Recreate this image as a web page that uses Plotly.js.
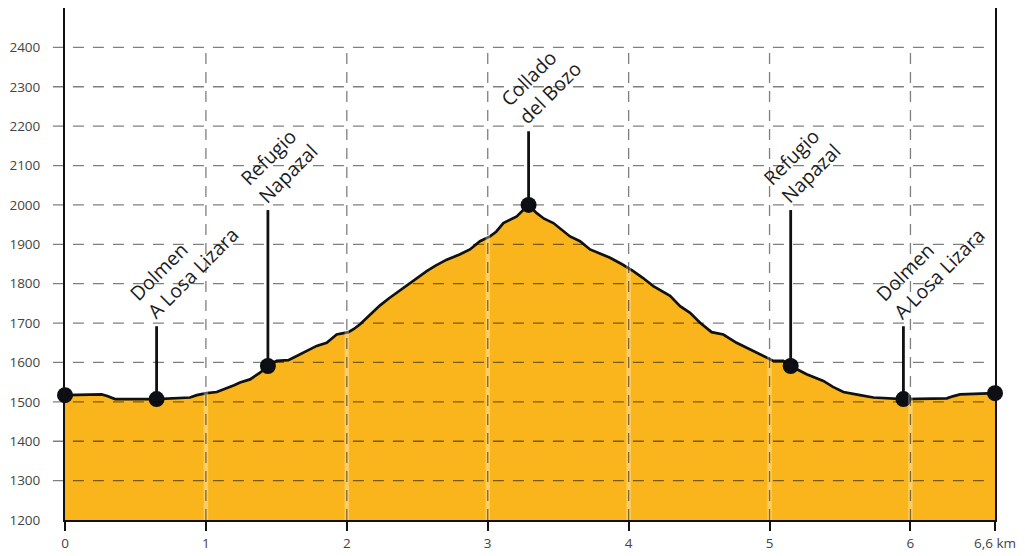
<!DOCTYPE html>
<html>
<head>
<meta charset="utf-8">
<script src="https://cdn.plot.ly/plotly-3.0.1.min.js"></script>
<style>
  html, body { margin: 0; padding: 0; background: #ffffff; }
  #chart { width: 1025px; height: 556px; }
</style>
</head>
<body>
<div id="chart"></div>
<script>
// ---- Data ----
const profileKm = [0, 0.26, 0.30, 0.355, 0.65, 0.887, 0.935, 1.005, 1.077, 1.10, 1.148, 1.20, 1.242, 1.313, 1.384, 1.439,
  1.502, 1.585, 1.62, 1.668, 1.72, 1.786, 1.857, 1.928, 2.011, 2.05, 2.094, 2.165, 2.236, 2.30, 2.401, 2.48, 2.567,
  2.63, 2.709, 2.80, 2.874, 2.945, 3.016, 3.06, 3.111, 3.206, 3.288, 3.348, 3.40, 3.466, 3.53, 3.584, 3.655, 3.726,
  3.80, 3.868, 3.95, 4.033, 4.10, 4.175, 4.294, 4.365, 4.436, 4.507, 4.589, 4.672, 4.766, 4.908, 5.027, 5.098, 5.15,
  5.263, 5.382, 5.45, 5.524, 5.642, 5.737, 5.95, 6.258, 6.30, 6.352, 6.6];
const profileElev = [1517, 1519, 1515, 1507, 1507, 1511, 1517, 1522, 1525, 1528, 1536, 1542, 1549, 1557, 1574, 1591,
  1604, 1606, 1612, 1621, 1631, 1642, 1650, 1671, 1677, 1685, 1697, 1722, 1745, 1763, 1790, 1810, 1832,
  1846, 1861, 1874, 1887, 1908, 1920, 1932, 1954, 1971, 2000, 1979, 1965, 1954, 1935, 1920, 1908, 1887,
  1876, 1866, 1850, 1832, 1815, 1794, 1769, 1743, 1726, 1701, 1677, 1671, 1650, 1625, 1604, 1604, 1591,
  1570, 1553, 1538, 1525, 1517, 1511, 1507, 1509, 1514, 1519, 1522];

const wpKm   = [0, 0.65, 1.44, 3.29, 5.15, 5.95, 6.6];
const wpElev = [1517, 1507, 1591, 2000, 1591, 1507, 1522];

const labelKm       = [0.65, 1.44, 3.29, 5.15, 5.95];
const labelBaseElev = [1507, 1591, 2000, 1591, 1507];
const labelTopElev  = [1692, 1987, 2187, 1987, 1692];
const labelText     = ["Dolmen<br>A Losa Lizara", "Refugio<br>Napazal", "Collado<br>del Bozo",
                       "Refugio<br>Napazal", "Dolmen<br>A Losa Lizara"];

const xTickVals = [0, 1, 2, 3, 4, 5, 6, 6.6];
const xTickText = ["0", "1", "2", "3", "4", "5", "6", "6,6 km"];
const yTickVals = [1200, 1300, 1400, 1500, 1600, 1700, 1800, 1900, 2000, 2100, 2200, 2300, 2400];
const xGridVals = [1, 2, 3, 4, 5, 6];
const yGridVals = [1300, 1400, 1500, 1600, 1700, 1800, 1900, 2000, 2100, 2200, 2300, 2400];

// ---- Traces ----
const leaderX = [], leaderY = [];
labelKm.forEach((k, i) => {
  leaderX.push(k, k, null);
  leaderY.push(labelBaseElev[i], labelTopElev[i], null);
});

const traces = [
  {
    x: profileKm, y: profileElev, type: 'scatter', mode: 'lines',
    fill: 'tozeroy', fillcolor: '#F9B51B',
    line: { color: '#111111', width: 2.7 },
    hoverinfo: 'skip', showlegend: false
  },
  {
    x: leaderX, y: leaderY, type: 'scatter', mode: 'lines',
    line: { color: '#111111', width: 2.8 },
    hoverinfo: 'skip', showlegend: false
  },
  {
    x: wpKm, y: wpElev, type: 'scatter', mode: 'markers',
    marker: { color: '#0d0f14', size: 16, line: { width: 0 } },
    cliponaxis: false,
    hoverinfo: 'skip', showlegend: false
  }
];

// ---- Grid shapes (drawn above the fill, as in the reference) ----
const shapes = [];
xGridVals.forEach(v => {
  shapes.push({
    type: 'line', layer: 'above', xref: 'x', yref: 'y',
    x0: v, x1: v, y0: 1200, y1: 2500,
    line: { color: 'rgba(255,255,255,0.32)', width: 4.5 }
  });
});
xGridVals.forEach(v => {
  shapes.push({
    type: 'line', layer: 'above', xref: 'x', yref: 'y',
    x0: v, x1: v, y0: 1200, y1: yGridVals[yGridVals.length - 1],
    line: { color: 'rgba(0,0,0,0.5)', width: 1.3, dash: '11px,8px' }
  });
});
yGridVals.forEach(v => {
  shapes.push({
    type: 'line', layer: 'above', xref: 'paper', yref: 'y',
    x0: -0.013, x1: 0.991, y0: v, y1: v,
    line: { color: 'rgba(0,0,0,0.5)', width: 1.3, dash: '11px,9px' }
  });
});

// ---- Labels ----
const annotations = labelKm.map((k, i) => ({
  x: k, y: labelTopElev[i], xref: 'x', yref: 'y',
  text: labelText[i], showarrow: false,
  textangle: -45, align: 'left',
  xanchor: 'left', yanchor: 'bottom',
  xshift: -36, yshift: -1,
  font: { family: 'Open Sans, sans-serif', size: 19.5, color: '#1c1c1c' }
}));

const layout = {
  width: 1025, height: 556,
  margin: { l: 65, r: 30, t: 8, b: 36, pad: 0 },
  paper_bgcolor: '#ffffff', plot_bgcolor: '#ffffff',
  showlegend: false,
  xaxis: {
    range: [0, 6.6], fixedrange: true,
    tickmode: 'array', tickvals: xTickVals, ticktext: xTickText,
    showgrid: false, zeroline: false,
    showline: true, linecolor: '#111111', linewidth: 2.4,
    ticks: 'outside', ticklen: 9, tickwidth: 2, tickcolor: '#111111',
    tickfont: { family: 'Open Sans, sans-serif', size: 13.5, color: '#444444' },
    layer: 'above traces'
  },
  yaxis: {
    range: [1200, 2500], fixedrange: true,
    tickmode: 'array', tickvals: yTickVals,
    showgrid: false, zeroline: false,
    showline: true, mirror: true, linecolor: '#111111', linewidth: 2,
    ticks: '', ticklabelstandoff: 20,
    tickfont: { family: 'Open Sans, sans-serif', size: 13.5, color: '#444444' },
    layer: 'above traces'
  },
  shapes: shapes,
  annotations: annotations
};

Plotly.newPlot('chart', traces, layout, { staticPlot: true, displayModeBar: false });
</script>
</body>
</html>
